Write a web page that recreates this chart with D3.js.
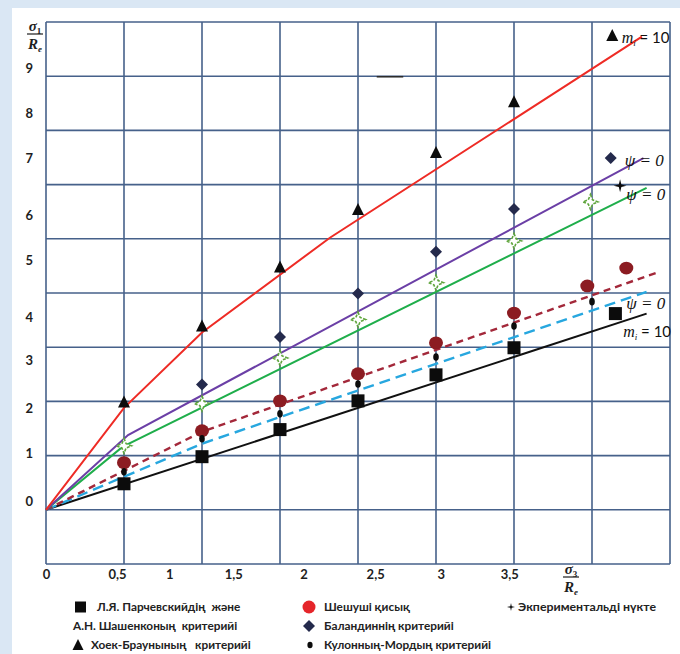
<!DOCTYPE html>
<html>
<head>
<meta charset="utf-8">
<script src="https://cdn.jsdelivr.net/npm/d3@7"></script>
<style>
  html, body { margin: 0; padding: 0; background: #dae7f4; }
  svg { display: block; }
  .tick text { font-family: Lato, "Open Sans", sans-serif; font-weight: 700; fill: #1e1e1e; }
  .legend text { white-space: pre; }
</style>
</head>
<body>
<svg id="chart" width="680" height="654"></svg>
<script>
// ---- axis tick labels and where each one sits along its axis (axis units) ----
const xTickLabels = ["0", "0,5", "1", "1,5", "2", "2,5", "3", "3,5"];
const xTickAt     = [0.0, 0.455, 0.79, 1.2, 1.65, 2.11, 2.53, 2.97];
const yTickLabels = ["0", "1", "2", "3", "4", "5", "6", "7", "8", "9"];
const yTickAt     = [0.15, 1.05, 1.88, 2.75, 3.56, 4.61, 5.44, 6.48, 7.32, 8.15];

// grid steps
const xGrid = [0, 0.5, 1, 1.5, 2, 2.5, 3, 3.5, 4];
const yGrid = [-1, 0, 1, 2, 3, 4, 5, 6, 7, 8, 9];

// ---- criterion curves (σ3/Re, σ1/Re) ----
const hoekBrownLineX  = [0, 0.5, 1.0, 1.82, 3.82];
const hoekBrownLineY  = [0, 1.88, 3.27, 5.02, 8.73];
const balandinLineX   = [0, 0.526, 3.83];
const balandinLineY   = [0, 1.38, 6.49];
const experimentLineX = [0, 0.49, 3.85];
const experimentLineY = [0, 1.16, 5.94];
const decisiveLineX   = [0, 1.0, 3.93];
const decisiveLineY   = [0, 1.44, 4.39];
const coulombLineX    = [0, 1.0, 3.85];
const coulombLineY    = [0, 1.22, 4.02];
const parchevskyLineX = [0, 3.85];
const parchevskyLineY = [0, 3.62];

// ---- point values ----
const parchevskyX = [0.5, 1, 1.5, 2, 2.5, 3, 3.65];
const parchevskyY = [0.48, 0.98, 1.48, 2.01, 2.49, 2.99, 3.62];
const decisiveX   = [0.5, 1, 1.5, 2, 2.5, 3, 3.47, 3.72];
const decisiveY   = [0.87, 1.46, 2.01, 2.51, 3.08, 3.63, 4.13, 4.46];
const coulombX    = [0.5, 1, 1.5, 2, 2.5, 3, 3.5];
const coulombY    = [0.70, 1.31, 1.77, 2.32, 2.82, 3.39, 3.84];
const balandinX   = [1, 1.5, 2, 2.5, 3, 3.62];
const balandinY   = [2.31, 3.19, 3.99, 4.76, 5.55, 6.49];
const experimentX = [0.5, 1, 1.5, 2, 2.5, 3, 3.49];
const experimentY = [1.18, 1.96, 2.80, 3.51, 4.19, 4.96, 5.68];
const hoekBrownX  = [0.5, 1, 1.5, 2, 2.5, 3, 3.63];
const hoekBrownY  = [1.99, 3.39, 4.48, 5.54, 6.59, 7.53, 8.75];
const testPointX  = [3.68];
const testPointY  = [5.98];

// ---- curve labels ----
const noteKind = ["m", "psi", "psi", "psi", "m"];
const noteX    = [3.69, 3.71, 3.72, 3.72, 3.70];
const noteY    = [8.70, 6.44, 5.80, 3.80, 3.28];

// ---- legend ----
const legendCol1 = ["Л.Я. Парчевскийдің  және", "А.Н. Шашенконың  критерийі", "Хоек-Браунының   критерийі"];
const legendCol2 = ["Шешуші қисық", "Баландиннің критерийі", "Кулонның-Мордың критерийі"];
const legendCol3 = ["Экпериментальді нүкте"];

const svg = d3.select("#chart");
const x = d3.scaleLinear().domain([0, 4]).range([46, 670]);
const y = d3.scaleLinear().domain([-1, 9]).range([564, 22]);

const gridColor = "#46618a";

// white sheet
svg.append("rect").attr("x", 12).attr("y", 8).attr("width", 668).attr("height", 646).attr("fill", "#ffffff");

// grid
const grid = svg.append("g");
grid.selectAll("line.v").data(xGrid).join("line")
  .attr("x1", d => x(d)).attr("x2", d => x(d))
  .attr("y1", y(9)).attr("y2", y(-1))
  .attr("stroke", gridColor).attr("stroke-width", 1.6);
grid.selectAll("line.h").data(yGrid).join("line")
  .attr("y1", d => y(d)).attr("y2", d => y(d))
  .attr("x1", x(0)).attr("x2", x(4))
  .attr("stroke", gridColor).attr("stroke-width", 1.6);

// stray short stroke on the 8-line
svg.append("line")
  .attr("x1", x(2.12)).attr("x2", x(2.29)).attr("y1", y(7.99)).attr("y2", y(7.99))
  .attr("stroke", "#2b2b2b").attr("stroke-width", 1.6);

// axes: labels only
const xAxis = svg.append("g").attr("transform", `translate(0,${y(-1)})`)
  .call(d3.axisBottom(x).tickValues(xTickAt).tickFormat((d, i) => xTickLabels[i]).tickSize(0).tickPadding(6));
xAxis.select(".domain").remove();
xAxis.selectAll("text").attr("font-size", 13);

const yAxis = svg.append("g").attr("transform", `translate(${x(0)},0)`)
  .call(d3.axisLeft(y).tickValues(yTickAt).tickFormat((d, i) => yTickLabels[i]).tickSize(0).tickPadding(13));
yAxis.select(".domain").remove();
yAxis.selectAll("text").attr("font-size", 13);

// axis titles: σ1/Re and σ3/Re
function fraction(cx, top, sub) {
  const g = svg.append("g").attr("font-family", "'Liberation Serif', 'DejaVu Serif', serif")
    .attr("font-style", "italic").attr("font-weight", 700).attr("fill", "#1e1e1e");
  const t1 = g.append("text").attr("x", cx).attr("y", top + 11).attr("text-anchor", "middle").attr("font-size", 15);
  t1.append("tspan").text("σ");
  t1.append("tspan").attr("font-size", 9).attr("font-style", "normal").attr("dy", 3).text(sub);
  g.append("line").attr("x1", cx - 8).attr("x2", cx + 8).attr("y1", top + 14).attr("y2", top + 14)
    .attr("stroke", "#1e1e1e").attr("stroke-width", 1.2);
  const t2 = g.append("text").attr("x", cx).attr("y", top + 29).attr("text-anchor", "middle").attr("font-size", 15);
  t2.append("tspan").text("R");
  t2.append("tspan").attr("font-size", 9).attr("dy", 3).text("e");
}
fraction(35, 20, "1");
fraction(571, 563, "3");

// curves
const line = d3.line().x(d => x(d[0])).y(d => y(d[1]));
const curves = [
  { xs: parchevskyLineX, ys: parchevskyLineY, color: "#111111", w: 2, dash: null },
  { xs: coulombLineX,    ys: coulombLineY,    color: "#27a7df", w: 2.4, dash: "11,6" },
  { xs: decisiveLineX,   ys: decisiveLineY,   color: "#a3283a", w: 2.4, dash: "7,5" },
  { xs: experimentLineX, ys: experimentLineY, color: "#1fae4b", w: 2, dash: null },
  { xs: balandinLineX,   ys: balandinLineY,   color: "#6b3fa6", w: 2, dash: null },
  { xs: hoekBrownLineX,  ys: hoekBrownLineY,  color: "#ee2b25", w: 2, dash: null }
];
svg.append("g").selectAll("path").data(curves).join("path")
  .attr("d", c => line(c.xs.map((v, i) => [v, c.ys[i]])))
  .attr("fill", "none").attr("stroke", c => c.color).attr("stroke-width", c => c.w)
  .attr("stroke-dasharray", c => c.dash);

// marker shapes
function star4(ro, ri) {
  const pts = [];
  for (let k = 0; k < 8; k++) {
    const a = -Math.PI / 2 + k * Math.PI / 4;
    const r = k % 2 === 0 ? ro : ri;
    pts.push([r * Math.cos(a), r * Math.sin(a)]);
  }
  return "M" + pts.map(p => p.join(",")).join("L") + "Z";
}
const pairs = (xs, ys) => xs.map((v, i) => [v, ys[i]]);
const marks = svg.append("g");

// experimental (green hollow sparkle)
marks.selectAll("path.exp").data(pairs(experimentX, experimentY)).join("path")
  .attr("transform", d => `translate(${x(d[0])},${y(d[1])})`)
  .attr("d", star4(7.5, 3)).attr("fill", "#ffffff").attr("stroke", "#5fa53c")
  .attr("stroke-width", 1.6).attr("stroke-dasharray", "3,1.5");

// Parchevsky–Shashenko squares
marks.selectAll("rect.sq").data(pairs(parchevskyX, parchevskyY)).join("rect")
  .attr("x", d => x(d[0]) - 6.5).attr("y", d => y(d[1]) - 6.5)
  .attr("width", 13).attr("height", 13).attr("fill", "#0c0c0c");

// decisive curve circles
marks.selectAll("ellipse.dc").data(pairs(decisiveX, decisiveY)).join("ellipse")
  .attr("cx", d => x(d[0])).attr("cy", d => y(d[1])).attr("rx", 7).attr("ry", 6.4)
  .attr("fill", "#8c1c22");

// Coulomb–Mohr dots
marks.selectAll("ellipse.cm").data(pairs(coulombX, coulombY)).join("ellipse")
  .attr("cx", d => x(d[0])).attr("cy", d => y(d[1])).attr("rx", 2.8).attr("ry", 3.8)
  .attr("fill", "#0c0c0c");

// Balandin diamonds
marks.selectAll("path.bd").data(pairs(balandinX, balandinY)).join("path")
  .attr("transform", d => `translate(${x(d[0])},${y(d[1])})`)
  .attr("d", "M0,-6L6,0L0,6L-6,0Z").attr("fill", "#242a4c");

// Hoek–Brown triangles
marks.selectAll("path.hb").data(pairs(hoekBrownX, hoekBrownY)).join("path")
  .attr("transform", d => `translate(${x(d[0])},${y(d[1])})`)
  .attr("d", "M0,-6.5L6,5.5L-6,5.5Z").attr("fill", "#0c0c0c");

// test point
marks.selectAll("path.tp").data(pairs(testPointX, testPointY)).join("path")
  .attr("transform", d => `translate(${x(d[0])},${y(d[1])})`)
  .attr("d", star4(6.5, 1.8)).attr("fill", "#0c0c0c");

// curve labels
const notes = svg.append("g").attr("fill", "#111");
noteKind.forEach((k, i) => {
  const t = notes.append("text").attr("x", x(noteX[i])).attr("y", y(noteY[i]) + 5).attr("font-size", 15);
  if (k === "psi") {
    t.attr("font-family", "'Liberation Serif', serif").attr("font-style", "italic").attr("font-size", 17);
    t.append("tspan").text("ψ = 0");
  } else {
    t.attr("font-family", "Lato, sans-serif");
    t.append("tspan").attr("font-family", "'Liberation Serif', serif").attr("font-style", "italic").attr("font-size", 16).text("m");
    t.append("tspan").attr("font-family", "'Liberation Serif', serif").attr("font-style", "italic").attr("font-size", 9).attr("dy", 3).text("i");
    t.append("tspan").attr("dy", -3).text(" = 10");
  }
});

// legend
const lg = svg.append("g").attr("class", "legend").attr("font-family", "Lato, 'Open Sans', sans-serif").attr("font-weight", 700)
  .attr("font-size", 11.8).attr("fill", "#222");
const rowY = [607, 626, 645];
lg.append("rect").attr("x", 75).attr("y", rowY[0] - 5.5).attr("width", 11).attr("height", 11).attr("fill", "#0c0c0c");
lg.append("text").attr("x", 97).attr("y", rowY[0] + 4).text(legendCol1[0]);
lg.append("text").attr("x", 73).attr("y", rowY[1] + 4).text(legendCol1[1]);
lg.append("path").attr("transform", `translate(78,${rowY[2]})`).attr("d", "M0,-6L5.5,5L-5.5,5Z").attr("fill", "#0c0c0c");
lg.append("text").attr("x", 91).attr("y", rowY[2] + 4).text(legendCol1[2]);

lg.append("circle").attr("cx", 309).attr("cy", rowY[0]).attr("r", 6.5).attr("fill", "#e5252a");
lg.append("text").attr("x", 324).attr("y", rowY[0] + 4).text(legendCol2[0]);
lg.append("path").attr("transform", `translate(309,${rowY[1]})`).attr("d", "M0,-6L6,0L0,6L-6,0Z").attr("fill", "#242a4c");
lg.append("text").attr("x", 324).attr("y", rowY[1] + 4).text(legendCol2[1]);
lg.append("ellipse").attr("cx", 310).attr("cy", rowY[2]).attr("rx", 2.6).attr("ry", 3.2).attr("fill", "#0c0c0c");
lg.append("text").attr("x", 324).attr("y", rowY[2] + 4).text(legendCol2[2]);

lg.append("path").attr("transform", `translate(511,${rowY[0]})`).attr("d", star4(4, 1)).attr("fill", "#0c0c0c");
lg.append("text").attr("x", 518).attr("y", rowY[0] + 4)
  .attr("textLength", 138).attr("lengthAdjust", "spacingAndGlyphs").text(legendCol3[0]);
</script>
</body>
</html>
